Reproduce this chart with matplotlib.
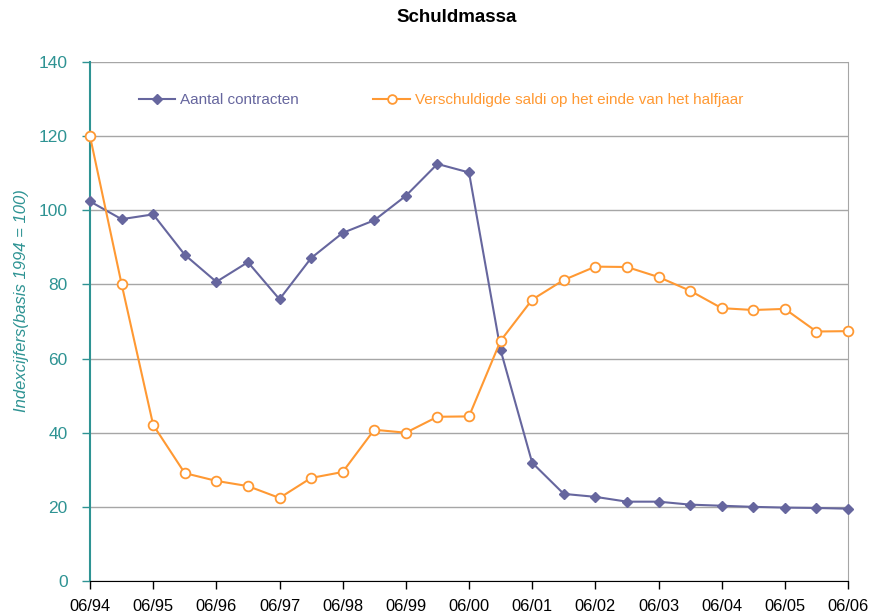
import matplotlib
matplotlib.use("Agg")
import matplotlib.pyplot as plt
from matplotlib.ticker import MultipleLocator

plt.rcParams['font.family'] = ['Liberation Sans', 'DejaVu Sans']

tick_labels = ["06/94", "06/95", "06/96", "06/97", "06/98", "06/99", "06/00",
               "06/01", "06/02", "06/03", "06/04", "06/05", "06/06"]
periods = list(range(25))  # half-year steps from 06/94 to 06/06
aantal_contracten = [102.4, 97.6, 98.9, 88.0, 80.7, 86.0, 76.0, 87.1, 93.9, 97.3,
                     103.9, 112.5, 110.2, 62.3, 31.9, 23.5, 22.7, 21.4, 21.4, 20.6,
                     20.3, 20.0, 19.8, 19.7, 19.5]
verschuldigde_saldi = [120.0, 80.1, 42.1, 29.1, 27.0, 25.6, 22.4, 27.8, 29.4, 40.8,
                       40.0, 44.3, 44.4, 64.8, 75.9, 81.2, 84.8, 84.7, 82.0, 78.3,
                       73.6, 73.1, 73.4, 67.3, 67.4]

purple = "#66669E"
orange = "#FF9933"
teal = "#2E9393"

fig = plt.figure(figsize=(8.69, 6.13), dpi=100)
ax = fig.add_axes([90/869, 32/613, 758/869, 519/613])

ax.plot(periods, aantal_contracten, color=purple, lw=1.5, marker='D', ms=5.5,
        mfc=purple, mec=purple, label="Aantal contracten", clip_on=False, zorder=3)
ax.plot(periods, verschuldigde_saldi, color=orange, lw=1.5, marker='o', ms=7,
        mfc='white', mec=orange, mew=1.3, label="Verschuldigde saldi op het einde van het halfjaar",
        clip_on=False, zorder=3)

ax.set_xlim(0, 24)
ax.set_ylim(0, 140)
ax.yaxis.set_major_locator(MultipleLocator(20))
ax.set_xticks(list(range(0, 25, 2)))
ax.set_xticklabels(tick_labels)
ax.grid(axis='y', color='#A6A6A6', lw=1)
ax.set_axisbelow(True)

ax.spines['top'].set_visible(False)
ax.spines['right'].set_color('#A6A6A6')
ax.spines['left'].set_color(teal)
ax.spines['left'].set_linewidth(1.5)
ax.spines['bottom'].set_color('black')
ax.tick_params(axis='y', colors=teal, labelsize=12.5, length=6, direction='out', width=1, pad=10)
ax.tick_params(axis='x', colors='black', labelsize=11.8, length=6, direction='out', width=1, pad=7)
for lbl in ax.get_yticklabels():
    lbl.set_color(teal)

ax.set_ylabel("Indexcijfers(basis 1994 = 100)", color=teal, fontsize=12, style='italic')
ax.yaxis.set_label_coords(-0.081, 0.541)

fig.text(457/869, 1 - 17/613, "Schuldmassa", fontsize=13.5, fontweight='bold',
         ha='center', va='center')

leg = ax.legend(loc='upper left', bbox_to_anchor=(0.046, 0.967), ncol=2, frameon=False,
                fontsize=11, handlelength=2.4, handletextpad=0.3, columnspacing=4.9,
                labelcolor='linecolor', markerscale=0.9)

fig.savefig("out.png", dpi=100)
